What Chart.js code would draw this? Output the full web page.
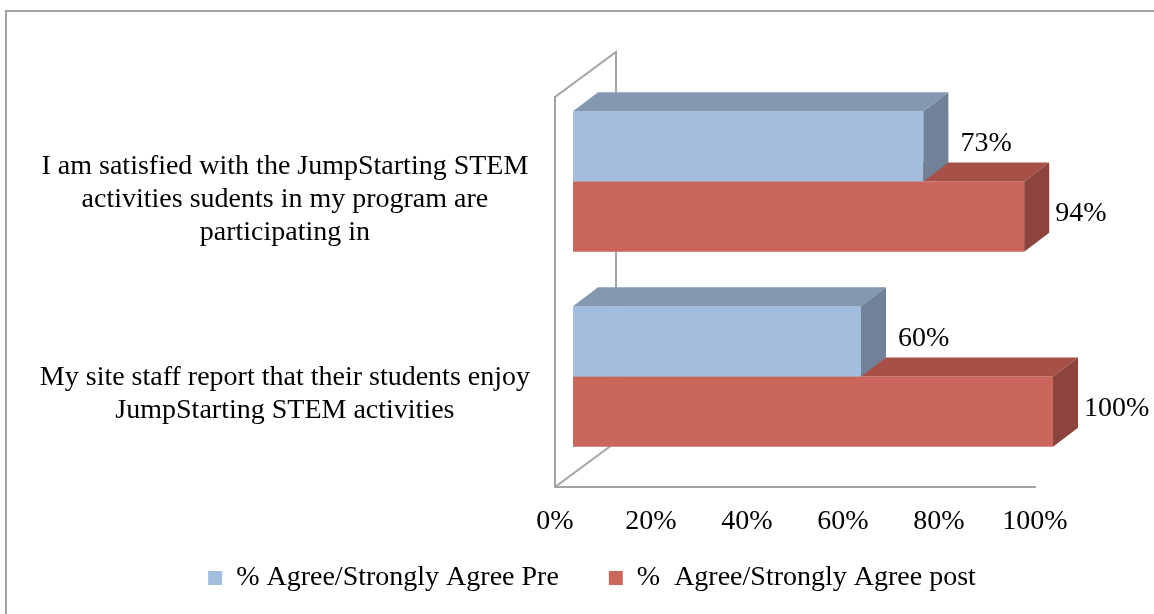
<!DOCTYPE html>
<html>
<head>
<meta charset="utf-8">
<script src="https://cdn.jsdelivr.net/npm/chart.js@4"></script>
<style>
  body { margin: 0; background: #fff; }
  canvas { display: block; }
</style>
</head>
<body>
<canvas id="chart" width="1154" height="614"></canvas>
<script>
// ## data ##
const categories = [
  ["I am satisfied with the JumpStarting STEM", "activities sudents in my program are", "participating in"],
  ["My site staff report that their students enjoy", "JumpStarting STEM activities"],
];
const preValues = [73, 60];
const postValues = [94, 100];
const seriesNames = ["% Agree/Strongly Agree Pre", "%  Agree/Strongly Agree post"];
const tickLabels = ["0%", "20%", "40%", "60%", "80%", "100%"];

// ## look ##
const gray = "#a3a3a3";
const faces = [
  { front: "#a2bddd", top: "#8299b1", side: "#718298", labelGap: 37 },
  { front: "#cb665c", top: "#a65048", side: "#8d443c", labelGap: 31 },
];
const shift = { dx: 18, dy: -13 }; // bars sit a bit behind the front plane
const depth = { dx: 25, dy: -19 }; // bar thickness
const wall = { dx: 61, dy: -45 };  // wall / floor depth

Chart.defaults.font.family = "'Liberation Serif', 'Times New Roman', serif";
Chart.defaults.font.size = 28;
Chart.defaults.color = "#000";

const fake3d = {
  id: "fake3d",
  afterLayout(chart) {
    // pull the legend up a little, it overlaps the (empty) lower part of the x axis box
    const lg = chart.legend;
    lg.top -= 25;
    lg.bottom = chart.height;
    lg.height = lg.bottom - lg.top;
  },
  beforeDraw(chart) {
    const ctx = chart.ctx;
    ctx.save();
    ctx.fillStyle = "#fff";
    ctx.fillRect(0, 0, chart.width, chart.height);
    ctx.strokeStyle = gray;
    ctx.lineWidth = 2;
    ctx.strokeRect(6, 11, 1300, 800);
    ctx.restore();
  },
  beforeDatasetsDraw(chart) {
    const { ctx, chartArea: a } = chart;
    ctx.save();
    ctx.strokeStyle = gray;
    ctx.lineWidth = 2;
    ctx.beginPath();
    ctx.moveTo(a.left, a.top);
    ctx.lineTo(a.left + wall.dx, a.top + wall.dy);
    ctx.lineTo(a.left + wall.dx, a.bottom + wall.dy);
    ctx.moveTo(a.left, a.bottom);
    ctx.lineTo(a.left + wall.dx, a.bottom + wall.dy);
    ctx.stroke();
    ctx.restore();
    // bars get drawn shifted back
    ctx.save();
    ctx.translate(shift.dx, shift.dy);
  },
  afterDatasetDraw(chart, args) {
    const ctx = chart.ctx;
    const f = faces[args.index];
    args.meta.data.forEach((bar) => {
      const top = bar.y - bar.height / 2;
      const bot = bar.y + bar.height / 2;
      ctx.fillStyle = f.top;
      ctx.beginPath();
      ctx.moveTo(bar.base, top);
      ctx.lineTo(bar.x, top);
      ctx.lineTo(bar.x + depth.dx, top + depth.dy);
      ctx.lineTo(bar.base + depth.dx, top + depth.dy);
      ctx.closePath();
      ctx.fill();
      ctx.fillStyle = f.side;
      ctx.beginPath();
      ctx.moveTo(bar.x, top);
      ctx.lineTo(bar.x + depth.dx, top + depth.dy);
      ctx.lineTo(bar.x + depth.dx, bot + depth.dy);
      ctx.lineTo(bar.x, bot);
      ctx.closePath();
      ctx.fill();
    });
  },
  afterDatasetsDraw(chart) {
    const ctx = chart.ctx;
    ctx.restore();
    // value labels
    ctx.save();
    ctx.font = "28px 'Liberation Serif'";
    ctx.fillStyle = "#000";
    ctx.textAlign = "left";
    ctx.textBaseline = "middle";
    chart.data.datasets.forEach((ds, i) => {
      chart.getDatasetMeta(i).data.forEach((bar, j) => {
        ctx.fillText(ds.data[j] + "%", bar.x + shift.dx + faces[i].labelGap, bar.y + shift.dy - 3);
      });
    });
    ctx.restore();
  },
};

const chart = new Chart(document.getElementById("chart"), {
  type: "bar",
  data: {
    labels: categories,
    datasets: [
      {
        label: seriesNames[0],
        data: preValues,
        backgroundColor: faces[0].front,
        borderWidth: 0,
        clip: false,
        xAxisID: "x",
        yAxisID: "y",
      },
      {
        label: seriesNames[1],
        data: postValues,
        backgroundColor: faces[1].front,
        borderWidth: 0,
        clip: false,
        xAxisID: "x",
        yAxisID: "y",
      },
    ],
  },
  options: {
    indexAxis: "y",
    responsive: false,
    animation: false,
    datasets: { bar: { categoryPercentage: 0.72, barPercentage: 1 } },
    layout: { padding: { left: 30, top: 97, right: 0, bottom: 12 } },
    plugins: {
      tooltip: { enabled: false },
      legend: {
        position: "bottom",
        maxHeight: 63,
        labels: { boxWidth: 14, boxHeight: 14, padding: 50, color: "#000" },
      },
    },
    scales: {
      x: {
        type: "linear",
        min: 0,
        max: 100,
        ticks: {
          stepSize: 20,
          padding: 18,
          maxRotation: 0,
          callback: (v, i) => tickLabels[i],
        },
        grid: { display: false, drawTicks: false },
        border: { display: true, color: gray, width: 2 },
        afterFit: (s) => { s.height = 52; },
      },
      y: {
        type: "category",
        position: "left",
        ticks: {
          crossAlign: "center",
          padding: 25,
          labelOffset: 5,
          font: { lineHeight: 1.18 },
        },
        grid: { display: false, drawTicks: false },
        border: { display: true, color: gray, width: 2 },
        afterFit: (s) => { s.width = 525; },
      },
      yRight: {
        type: "linear",
        position: "right",
        ticks: { display: false },
        grid: { display: false, drawTicks: false },
        border: { display: false },
        afterFit: (s) => { s.width = 119; },
      },
    },
  },
  plugins: [fake3d],
});
</script>
</body>
</html>
